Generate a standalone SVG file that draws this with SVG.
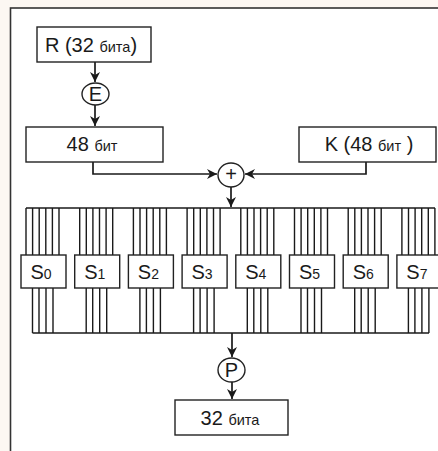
<svg xmlns="http://www.w3.org/2000/svg" width="438" height="451" viewBox="0 0 438 451">
<defs>
<style>
.bx{fill:#fff;stroke:#222;stroke-width:1.4}
.ln{fill:none;stroke:#1a1a1a;stroke-width:1.7}
.w{fill:none;stroke:#1a1a1a;stroke-width:1.4}
.t{font-family:"Liberation Sans",Arial,sans-serif;fill:#1a1a1a;font-size:20px}
.s{font-size:14.5px}
.d{font-size:14px}
</style>
<marker id="ah" viewBox="0 0 10 10" refX="10" refY="5" markerWidth="10" markerHeight="10" markerUnits="userSpaceOnUse" orient="auto">
<path d="M0,0 L10,5 L0,10 L3,5 Z" fill="#1a1a1a"/>
</marker>
</defs>
<rect x="0" y="0" width="438" height="451" fill="#fcf7f2"/>
<rect x="10.5" y="8" width="440" height="460" fill="#fff" stroke="#333" stroke-width="1.6"/>

<g id="connectors">
<line class="ln" x1="95" y1="62" x2="95" y2="82" marker-end="url(#ah)"/>
<line class="ln" x1="95" y1="105" x2="95" y2="126" marker-end="url(#ah)"/>
<polyline class="ln" points="93,162 93,174 217,174" marker-end="url(#ah)"/>
<polyline class="ln" points="366,162 366,174 245,174" marker-end="url(#ah)"/>
<line class="ln" x1="231" y1="187" x2="231" y2="207" marker-end="url(#ah)"/>
<line class="ln" x1="232" y1="333" x2="232" y2="357" marker-end="url(#ah)"/>
<line class="ln" x1="232" y1="382" x2="232" y2="399" marker-end="url(#ah)"/>
</g>

<g id="bus">
<line class="w" x1="26" y1="208" x2="435" y2="208"/>
<line class="w" x1="32.5" y1="333" x2="429" y2="333"/>
</g>

<g id="R">
<rect class="bx" x="37" y="27" width="114" height="35"/>
<text class="t" x="91" y="51.5" text-anchor="middle">R (32 <tspan class="s">бита</tspan>)</text>
</g>
<g id="E">
<ellipse class="bx" cx="95.5" cy="94" rx="13.5" ry="11"/>
<text class="t" x="95.5" y="101" text-anchor="middle">E</text>
</g>
<g id="b48">
<rect class="bx" x="26" y="127" width="137" height="35"/>
<text class="t" x="92" y="151" text-anchor="middle">48 <tspan class="s">бит</tspan></text>
</g>
<g id="K">
<rect class="bx" x="299" y="127" width="137" height="35"/>
<text class="t" x="369" y="151" text-anchor="middle">K (48 <tspan class="s">бит</tspan> )</text>
</g>
<g id="xor">
<ellipse class="bx" cx="231" cy="175" rx="13" ry="12"/>
<text class="t" x="231" y="181" text-anchor="middle" font-size="17">+</text>
</g>

<g id="S0"><g class="w"><path d="M26 208V255M32.6 208V255M39.2 208V255M45.8 208V255M52.4 208V255M59 208V255M32.5 288V333M39 288V333M46 288V333M53 288V333"/></g><rect class="bx" x="21" y="255" width="45" height="33"/><text class="t" x="41" y="278.5" text-anchor="middle">S<tspan class="d">0</tspan></text></g>
<g id="S1"><g class="w"><path d="M79.7 208V255M86.3 208V255M92.9 208V255M99.5 208V255M106.1 208V255M112.7 208V255M86.2 288V333M92.7 288V333M99.7 288V333M106.7 288V333"/></g><rect class="bx" x="74.7" y="255" width="45" height="33"/><text class="t" x="94.7" y="278.5" text-anchor="middle">S<tspan class="d">1</tspan></text></g>
<g id="S2"><g class="w"><path d="M133.4 208V255M140 208V255M146.6 208V255M153.2 208V255M159.8 208V255M166.4 208V255M139.9 288V333M146.4 288V333M153.4 288V333M160.4 288V333"/></g><rect class="bx" x="128.4" y="255" width="45" height="33"/><text class="t" x="148.4" y="278.5" text-anchor="middle">S<tspan class="d">2</tspan></text></g>
<g id="S3"><g class="w"><path d="M187.1 208V255M193.7 208V255M200.3 208V255M206.9 208V255M213.5 208V255M220.1 208V255M193.6 288V333M200.1 288V333M207.1 288V333M214.1 288V333"/></g><rect class="bx" x="182.1" y="255" width="45" height="33"/><text class="t" x="202.1" y="278.5" text-anchor="middle">S<tspan class="d">3</tspan></text></g>
<g id="S4"><g class="w"><path d="M240.8 208V255M247.4 208V255M254 208V255M260.6 208V255M267.2 208V255M273.8 208V255M247.3 288V333M253.8 288V333M260.8 288V333M267.8 288V333"/></g><rect class="bx" x="235.8" y="255" width="45" height="33"/><text class="t" x="255.8" y="278.5" text-anchor="middle">S<tspan class="d">4</tspan></text></g>
<g id="S5"><g class="w"><path d="M294.5 208V255M301.1 208V255M307.7 208V255M314.3 208V255M320.9 208V255M327.5 208V255M301 288V333M307.5 288V333M314.5 288V333M321.5 288V333"/></g><rect class="bx" x="289.5" y="255" width="45" height="33"/><text class="t" x="309.5" y="278.5" text-anchor="middle">S<tspan class="d">5</tspan></text></g>
<g id="S6"><g class="w"><path d="M348.2 208V255M354.8 208V255M361.4 208V255M368 208V255M374.6 208V255M381.2 208V255M354.7 288V333M361.2 288V333M368.2 288V333M375.2 288V333"/></g><rect class="bx" x="343.2" y="255" width="45" height="33"/><text class="t" x="363.2" y="278.5" text-anchor="middle">S<tspan class="d">6</tspan></text></g>
<g id="S7"><g class="w"><path d="M401.9 208V255M408.5 208V255M415.1 208V255M421.7 208V255M428.3 208V255M434.9 208V255M408.4 288V333M414.9 288V333M421.9 288V333M428.9 288V333"/></g><rect class="bx" x="396.9" y="255" width="45" height="33"/><text class="t" x="416.9" y="278.5" text-anchor="middle">S<tspan class="d">7</tspan></text></g>

<g id="P">
<ellipse class="bx" cx="231.5" cy="370" rx="13.5" ry="12"/>
<text class="t" x="231.5" y="377" text-anchor="middle">P</text>
</g>
<g id="out">
<rect class="bx" x="175" y="400" width="113" height="35"/>
<text class="t" x="230" y="424.5" text-anchor="middle">32 <tspan class="s">бита</tspan></text>
</g>
</svg>
